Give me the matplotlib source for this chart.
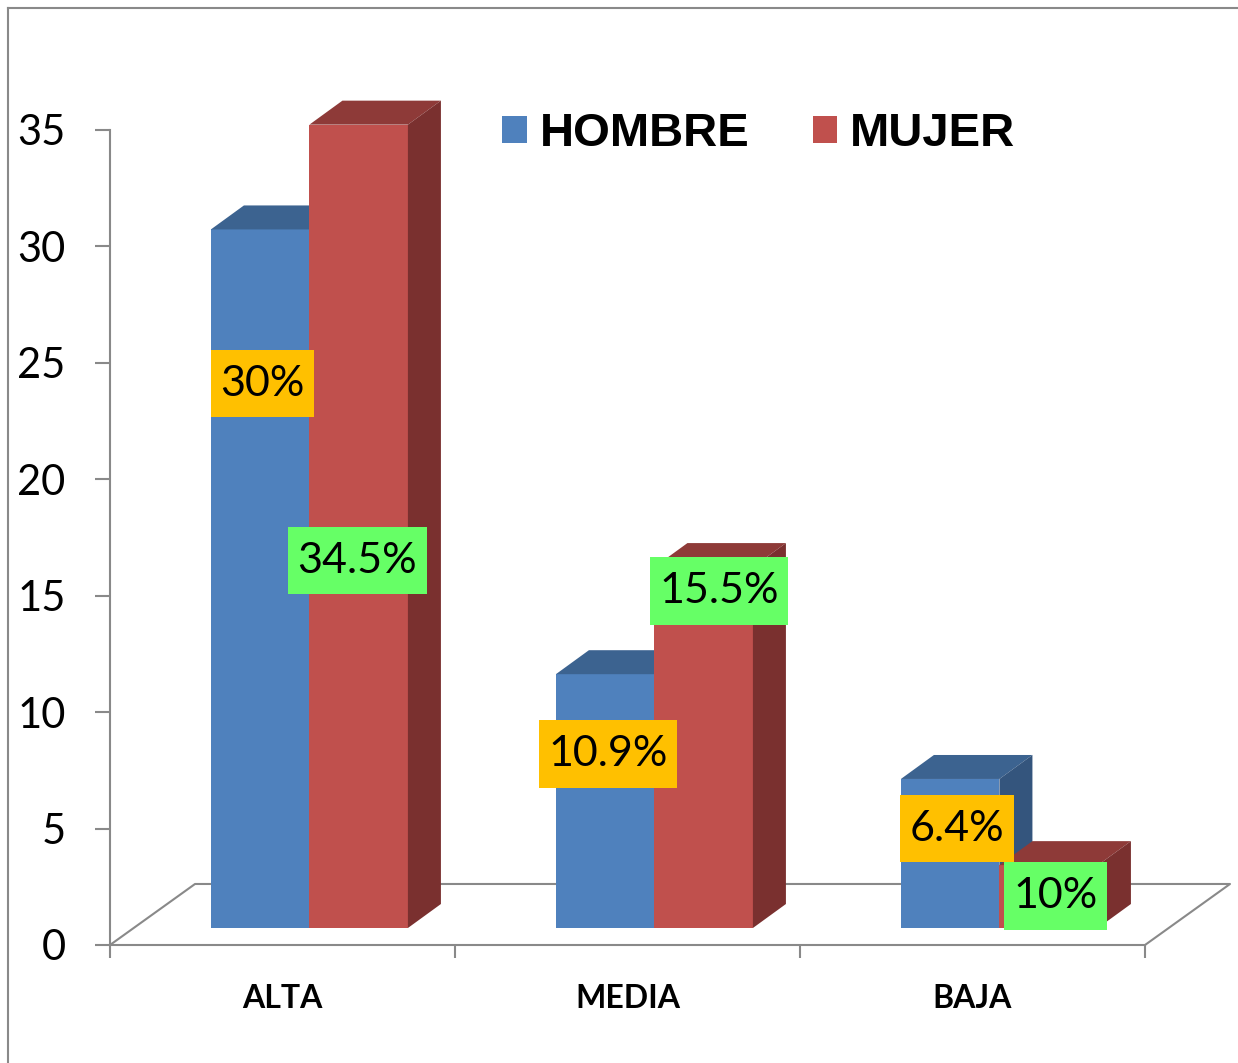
"""
Nivel por sexo - barras con efecto 3D (estilo Excel)
"""

import matplotlib
matplotlib.use('Agg')
import matplotlib.pyplot as plt
from matplotlib.patches import Polygon
from matplotlib.lines import Line2D
from matplotlib.path import Path
import numpy as np

categories = ['ALTA', 'MEDIA', 'BAJA']
series = ['HOMBRE', 'MUJER']
hombre = [30.0, 10.9, 6.4]
mujer = [34.5, 15.5, 2.7]
hombre_labels = ['30%', '10.9%', '6.4%']
mujer_labels = ['34.5%', '15.5%', '10%']
y_ticks = [0, 5, 10, 15, 20, 25, 30, 35]

# label placement (data coords), set by hand like in the original chart
hombre_label_pos = [(-0.057, 24.1), (0.944, 8.2), (1.955, 5.0)]
mujer_label_pos = [(0.217, 16.5), (1.265, 15.2), (2.240, 2.1)]

FRONT = {'HOMBRE': '#4F81BD', 'MUJER': '#C0504D'}
TOP = {'HOMBRE': '#3C6390', 'MUJER': '#8E3A38'}
SIDE = {'HOMBRE': '#34557D', 'MUJER': '#7A302F'}
LABEL_BG = {'HOMBRE': '#FFC000', 'MUJER': '#66FF66'}
GRID = '#898989'

BAR_W = 0.2855
PAIR_SHIFT = 0.078
BASE = 0.73          # bars stand a bit above the front floor edge
DEPTH_X, DEPTH_Y = 0.0957, 1.03
FLOOR_X, FLOOR_Y = 0.2464, 2.62


def label_box(x0, y0, width, height, mutation_size):
    # rectangle with more padding top/bottom than left/right (Excel look)
    px = 0.22 * mutation_size
    py = 0.34 * mutation_size
    return Path([(x0 - px, y0 - py), (x0 + width + px, y0 - py),
                 (x0 + width + px, y0 + height + py), (x0 - px, y0 + height + py),
                 (x0 - px, y0 - py)], closed=True)


fig = plt.figure(figsize=(12.38, 10.63), dpi=100)
ax = fig.add_axes([0.08885, 0.11101, 0.83603, 0.76670])
ax.set_xlim(-0.5, 2.5)
ax.set_ylim(0, 35)

x = np.arange(len(categories))

# floor outline (behind the bars)
ax.plot([-0.5, -0.5 + FLOOR_X, 2.5 + FLOOR_X, 2.5],
        [0, FLOOR_Y, FLOOR_Y, 0], color=GRID, lw=1.5, clip_on=False, zorder=1)


def draw_3d(bars, name, z):
    for b in bars:
        bx, by = b.get_x(), b.get_y()
        bw, bh = b.get_width(), b.get_height()
        top = [(bx, by + bh), (bx + DEPTH_X, by + bh + DEPTH_Y),
               (bx + bw + DEPTH_X, by + bh + DEPTH_Y), (bx + bw, by + bh)]
        side = [(bx + bw, by), (bx + bw + DEPTH_X, by + DEPTH_Y),
                (bx + bw + DEPTH_X, by + bh + DEPTH_Y), (bx + bw, by + bh)]
        ax.add_patch(Polygon(top, closed=True, facecolor=TOP[name],
                             edgecolor='none', clip_on=False, zorder=z))
        ax.add_patch(Polygon(side, closed=True, facecolor=SIDE[name],
                             edgecolor='none', clip_on=False, zorder=z))


bars_h = ax.bar(x + PAIR_SHIFT - BAR_W / 2, hombre, BAR_W, bottom=BASE,
                color=FRONT['HOMBRE'], label='HOMBRE', clip_on=False, zorder=2)
draw_3d(bars_h, 'HOMBRE', 2)
bars_m = ax.bar(x + PAIR_SHIFT + BAR_W / 2, mujer, BAR_W, bottom=BASE,
                color=FRONT['MUJER'], label='MUJER', clip_on=False, zorder=3)
draw_3d(bars_m, 'MUJER', 3)

# value labels
for txt, (lx, ly) in zip(hombre_labels, hombre_label_pos):
    ax.text(lx, ly, txt, ha='center', va='center', fontsize=31, family='Lato',
            zorder=6, bbox=dict(boxstyle=label_box,
                                facecolor=LABEL_BG['HOMBRE'], edgecolor='none'))
for txt, (lx, ly) in zip(mujer_labels, mujer_label_pos):
    ax.text(lx, ly, txt, ha='center', va='center', fontsize=31, family='Lato',
            zorder=6, bbox=dict(boxstyle=label_box,
                                facecolor=LABEL_BG['MUJER'], edgecolor='none'))

# axes styling
for s in ['top', 'right']:
    ax.spines[s].set_visible(False)
for s in ['left', 'bottom']:
    ax.spines[s].set_color(GRID)
    ax.spines[s].set_linewidth(1.5)

ax.set_yticks(y_ticks)
ax.set_yticklabels([str(t) for t in y_ticks], fontsize=30, family='Lato')
ax.tick_params(axis='y', length=11, width=1.5, color=GRID, pad=21)

ax.set_xticks([-0.5, 0.5, 1.5, 2.5])
ax.set_xticklabels([])
ax.tick_params(axis='x', which='major', length=9, width=1.5, color=GRID)
ax.set_xticks(x, minor=True)
ax.set_xticklabels(categories, minor=True, fontsize=23, family='Lato',
                   fontweight='bold')
ax.tick_params(axis='x', which='minor', length=0, pad=28)

leg = ax.legend(loc='center', bbox_to_anchor=(0.613, 0.874),
                bbox_transform=fig.transFigure, ncol=2, frameon=False,
                handlelength=0.51, handleheight=0.51, handletextpad=0.28,
                columnspacing=1.34,
                prop={'family': 'Liberation Sans', 'weight': 'bold', 'size': 34})

# outer chart border (only top/left visible in original)
fig.add_artist(Line2D([8 / 1238, 8 / 1238], [0, 1 - 8 / 1063],
                      transform=fig.transFigure, color=GRID, lw=1.5))
fig.add_artist(Line2D([8 / 1238, 1], [1 - 8 / 1063, 1 - 8 / 1063],
                      transform=fig.transFigure, color=GRID, lw=1.5))

plt.savefig('out.png', dpi=100)
